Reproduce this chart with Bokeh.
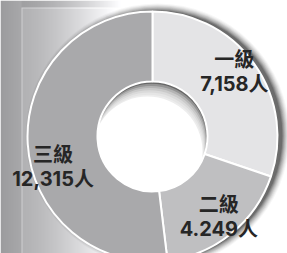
import numpy as np
from bokeh.plotting import figure
from bokeh.models import Range1d, ColumnDataSource
from bokeh.core.properties import value
from bokeh.embed import file_html
from bokeh.resources import INLINE

# ---- data ----
categories = ["一級", "二級", "三級"]
counts = [7158, 4249, 12315]
count_labels = ["7,158人", "4.249人", "12,315人"]
colors = ["#e4e4e6", "#bfbfc1", "#a9a9ab"]

# ---- layout (pixel coords, y measured upward) ----
W, H = 287, 253
cx, cy = 152, 117
R_out, R_in = 125, 55
label_r = 104
label_shift_deg = [2.4, 0.5, 13.7]

p = figure(width=W, height=H, output_backend="svg", toolbar_location=None,
           x_range=Range1d(0, W), y_range=Range1d(0, H), min_border=0)
p.axis.visible = False
p.grid.visible = False
p.outline_line_color = None
p.background_fill_color = "white"

# background gradient (left side frame)
nx, ny = 150, H
xs = np.arange(nx) + 0.5
ys_top = H - (np.arange(ny) + 0.5)          # distance from top for each row
X, YT = np.meshgrid(xs, ys_top)
g_in = 178 + 77 * np.clip((X - 22) / 92.0, 0, 1) ** 1.3
g_left = 156 + 0.6 * X
g_top = 160 + 95 * np.clip((X - 20) / 100.0, 0, 1) ** 1.4
g = np.where(X < 21, g_left, np.where(YT < 7, g_top, g_in))
line = ((X >= 21) & (X < 22.2) & (YT >= 7)) | ((YT >= 7) & (YT < 8.2) & (X >= 21))
g = np.where(line, np.minimum(g + 28, 255), g)
img = np.zeros((ny, nx), dtype=np.uint32)
view = img.view(dtype=np.uint8).reshape((ny, nx, 4))
view[:, :, 0] = g.astype(np.uint8)
view[:, :, 1] = g.astype(np.uint8)
view[:, :, 2] = np.clip(g + 2, 0, 255).astype(np.uint8)
view[:, :, 3] = 255
p.image_rgba(image=[img], x=0, y=0, dw=nx, dh=ny)

# outer drop shadow
for i, a in enumerate([0.3, 0.22, 0.17, 0.13, 0.10, 0.08, 0.06, 0.04]):
    p.circle(x=cx + 5, y=cy + 1, radius=R_out + i, fill_color="#333333",
             fill_alpha=a, line_color=None)

# hole with inner shadow
p.circle(x=cx, y=cy, radius=R_in, fill_color="#666666", line_color=None)
for i in range(6):
    p.circle(x=cx - 0.7 * (i + 1), y=cy - 2.2 * (i + 1), radius=R_in,
             fill_color="white", fill_alpha=0.3, line_color=None)
p.circle(x=cx - 5, y=cy - 15, radius=R_in, fill_color="white", line_color=None)

# donut wedges (clockwise from 12 o'clock)
total = float(sum(counts))
frac = np.array(counts) / total
cum = np.concatenate([[0], np.cumsum(frac)])
start = np.pi / 2 - 2 * np.pi * cum[:-1]
end = np.pi / 2 - 2 * np.pi * cum[1:]
src = ColumnDataSource(dict(cat=categories, start=start, end=end, color=colors))
p.annular_wedge(x=cx, y=cy, inner_radius=R_in, outer_radius=R_out,
                start_angle="start", end_angle="end", direction="clock",
                fill_color="color", line_color="white", line_width=2.0, source=src)

# labels
mid = (start + end) / 2 + np.radians(label_shift_deg)
lx = cx + label_r * np.cos(mid)
ly = cy + label_r * np.sin(mid)
font = value("Inter, Noto Sans CJK TC")
p.text(x=lx, y=ly + 12, text=categories, text_font=font, text_font_size="20px",
       text_font_style="bold", text_color="#262626", text_align="center",
       text_baseline="middle")
p.text(x=lx, y=ly - 12, text=count_labels, text_font=font, text_font_size="20px",
       text_font_style="bold", text_color="#262626", text_align="center",
       text_baseline="middle")

open("out.html", "w").write(file_html(p, INLINE))
